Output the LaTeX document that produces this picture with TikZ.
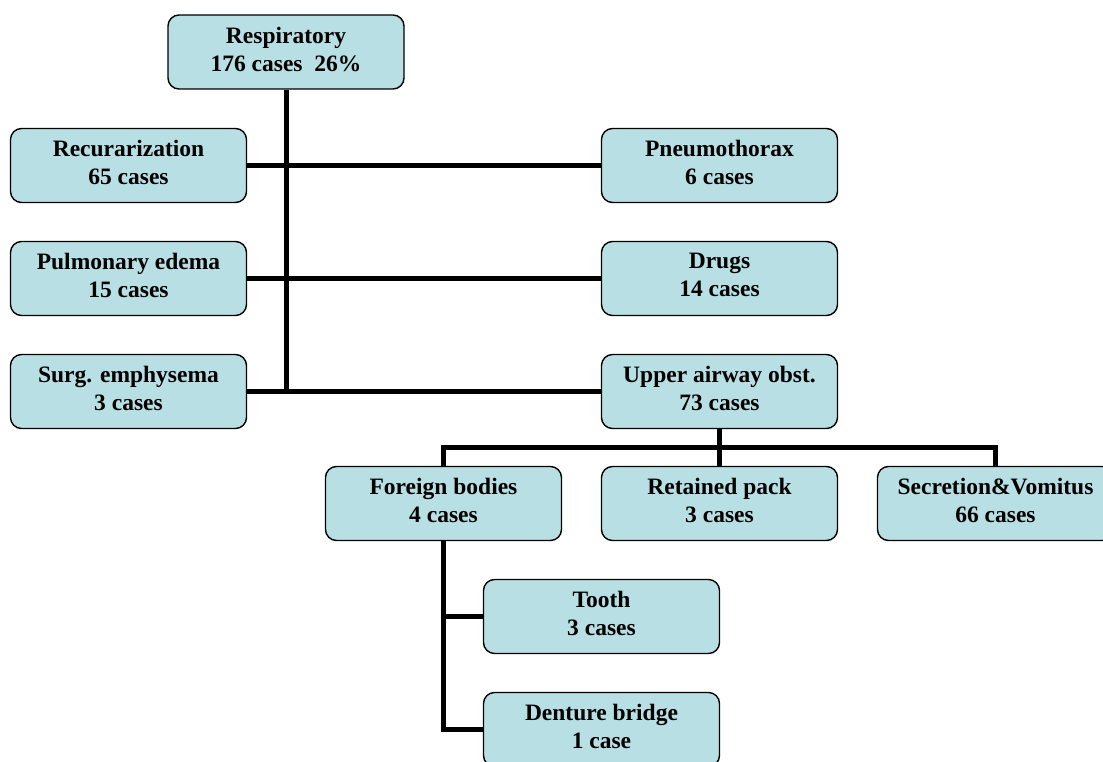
\documentclass[tikz,border=0pt]{standalone}
\usepackage{fontspec}
\setmainfont{Liberation Serif}
\definecolor{boxfill}{HTML}{B8DFE3}
\begin{document}
\begin{tikzpicture}[x=1pt,y=-1pt,
  box/.style={draw=black, line width=1.4pt, rounded corners=11pt, fill=boxfill,
    minimum width=236pt, minimum height=74pt, inner sep=0pt,
    label={[anchor=north, yshift=-12.5pt, align=center, font=\fontsize{23.5}{27.8}\selectfont\bfseries, inner sep=0pt]north:#1}},
  conn/.style={line width=5pt, line join=miter, black}]
\useasboundingbox (0,0) rectangle (1103,762);
\node[box={Respiratory\\176 cases~~26\%}] (resp) at (286,52) {};
\node[box={Recurarization\\65 cases}] (recur) at (128.5,165.5) {};
\node[box={Pneumothorax\\6 cases}] (pneu) at (719.5,165.5) {};
\node[box={Pulmonary edema\\15 cases}] (pulm) at (128.5,278.5) {};
\node[box={Drugs\\14 cases}] (drugs) at (719.5,278.5) {};
\node[box={Surg. emphysema\\3 cases}] (surg) at (128.5,391.5) {};
\node[box={Upper airway obst.\\73 cases}] (upper) at (719.5,391.5) {};
\node[box={Foreign bodies\\4 cases}] (foreign) at (443.5,503.5) {};
\node[box={Retained pack\\3 cases}] (retained) at (719.5,503.5) {};
\node[box={Secretion\&Vomitus\\66 cases}] (secr) at (995.5,503.5) {};
\node[box={Tooth\\3 cases}] (tooth) at (601.5,616.5) {};
\node[box={Denture bridge\\1 case}] (denture) at (601.5,729.5) {};
\coordinate (bus) at (719.5,447);
% trunk
\draw[conn] (resp.south) -- (resp.south |- surg.east);
\draw[conn] (recur.east) -- (pneu.west);
\draw[conn] (pulm.east) -- (drugs.west);
\draw[conn] (surg.east) -- (upper.west);
% upper airway bus
\draw[conn] (upper.south) -- (bus);
\draw[conn] (foreign.north) -- (foreign.north |- bus) -- (secr.north |- bus) -- (secr.north);
\draw[conn] (retained.north) -- (retained.north |- bus);
% foreign bodies
\draw[conn] (foreign.south) |- (denture.west);
\draw[conn] (tooth.west) -- (tooth.west -| foreign.south);
\end{tikzpicture}
\end{document}
